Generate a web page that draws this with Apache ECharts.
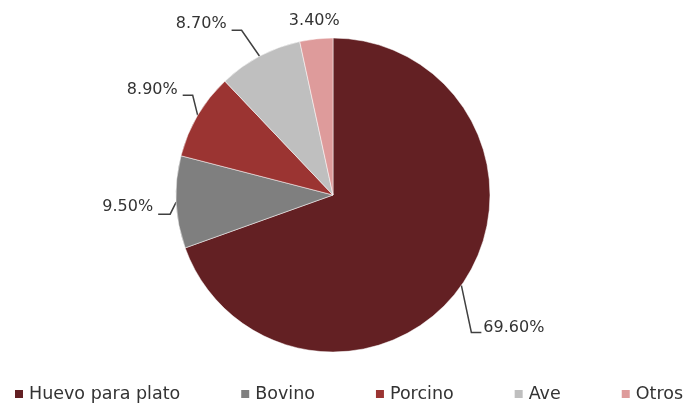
<!DOCTYPE html>
<html>
<head>
<meta charset="utf-8">
<script src="https://cdn.jsdelivr.net/npm/echarts@6/dist/echarts.min.js"></script>
<style>
  html, body { margin: 0; padding: 0; background: #fff; }
  #chart { width: 691px; height: 407px; }
</style>
</head>
<body>
<div id="chart"></div>
<script>
const categories = ["Huevo para plato", "Bovino", "Porcino", "Ave", "Otros"];
const shares = [69.6, 9.5, 8.9, 8.7, 3.4];
const colors = ["#632023", "#7f7f7f", "#9b3432", "#bfbfbf", "#de9b9b"];

const cx = 333, cy = 195, R = 157;

// leader lines in the Excel style: bend and end offsets from the slice edge
const leaders = [
    { bend: [10, 47], end: 20, side: "left", dy: -5 },
    { bend: [-6, 12], end: -18, side: "right", dy: -7 },
    { bend: [-5, -20], end: -15, side: "right", dy: -6 },
    { bend: [-18, -26], end: -28, side: "right", dy: -6 },
    { bend: [-2, -18], end: -2, side: "center", dy: 0 },
];

const total = shares.reduce((a, b) => a + b, 0);
const edgePoint = (i) => {
    const before = shares.slice(0, i).reduce((a, b) => a + b, 0);
    const frac = (before + shares[i] / 2) / total;
    const ang = (90 - frac * 360) * Math.PI / 180;
    return [cx + R * Math.cos(ang), cy - R * Math.sin(ang)];
};

const chart = echarts.init(document.getElementById("chart"));

chart.setOption({
    animation: false,
    color: colors,
    legend: {
        top: 385,
        left: 13,
        padding: 0,
        icon: "rect",
        itemWidth: 10,
        itemHeight: 10,
        itemGap: 59,
        textStyle: { fontFamily: "DejaVu Sans", fontSize: 17.5, color: "#333" },
        data: categories,
    },
    series: [
        {
            type: "pie",
            center: [cx, cy],
            radius: R,
            startAngle: 90,
            clockwise: true,
            data: categories.map((name, i) => ({
                name,
                value: shares[i],
                labelLine: { show: i !== 4 },
            })),
            itemStyle: { borderColor: "#fff", borderWidth: 0.5 },
            label: {
                formatter: (p) => p.value.toFixed(2) + "%",
                fontFamily: "DejaVu Sans",
                fontSize: 16,
                color: "#333",
            },
            labelLine: {
                lineStyle: { color: "#404040", width: 1.5 },
            },
            labelLayout: (params) => {
                const i = params.dataIndex;
                const l = leaders[i];
                const p0 = edgePoint(i);
                const p1 = [p0[0] + l.bend[0], p0[1] + l.bend[1]];
                const p2 = [p0[0] + l.end, p1[1]];
                let x = p2[0];
                if (l.side === "left") x += 2;
                if (l.side === "right") x -= 5;
                return {
                    x,
                    y: p1[1] + l.dy,
                    align: l.side,
                    verticalAlign: "middle",
                    labelLinePoints: [p0, p1, p2],
                };
            },
        },
    ],
});
</script>
</body>
</html>
